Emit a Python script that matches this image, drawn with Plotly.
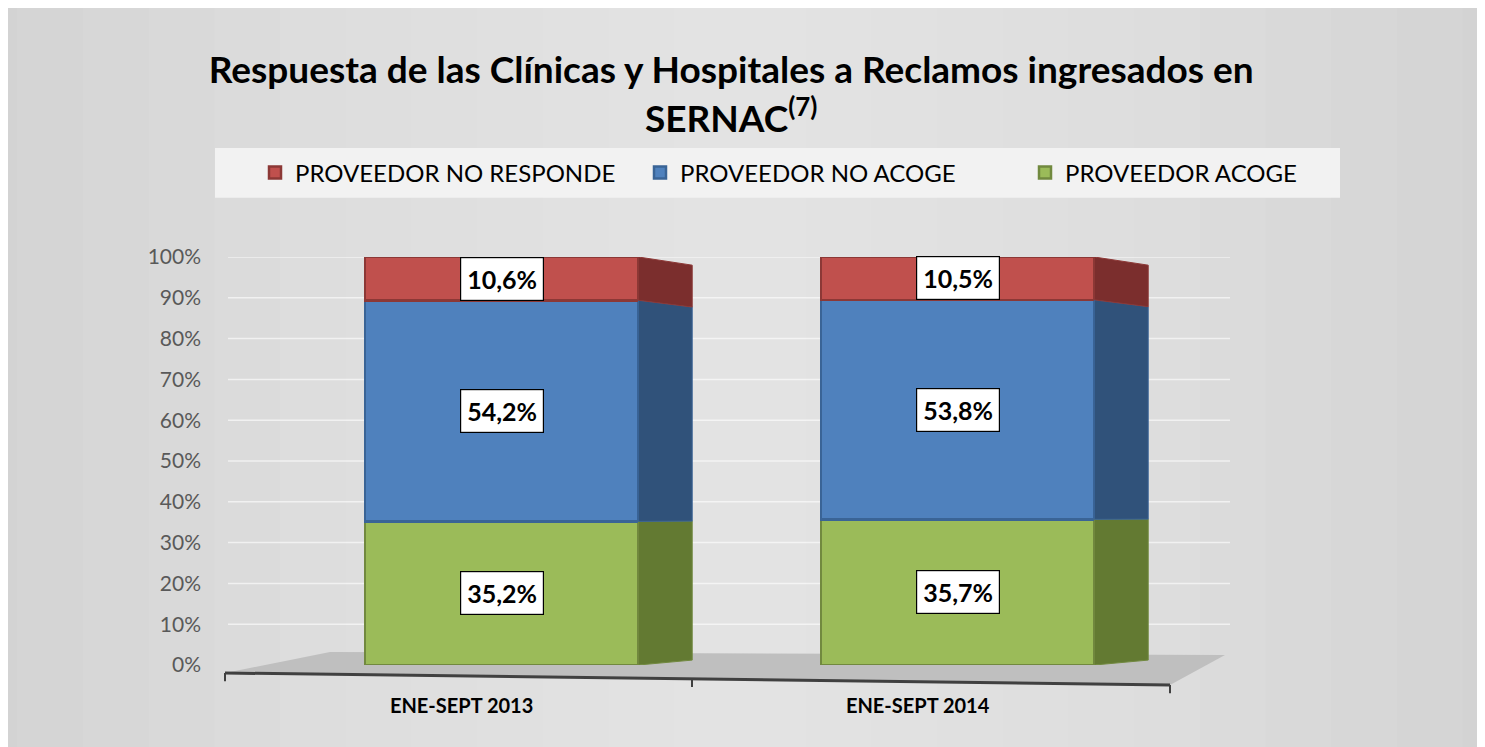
import plotly.graph_objects as go

categories = ["ENE-SEPT 2013", "ENE-SEPT 2014"]
series_names = ["PROVEEDOR ACOGE", "PROVEEDOR NO ACOGE", "PROVEEDOR NO RESPONDE"]
acoge = [35.2, 35.7]
no_acoge = [54.2, 53.8]
no_responde = [10.6, 10.5]
y_ticks = [0, 10, 20, 30, 40, 50, 60, 70, 80, 90, 100]

FONT = "Lato"
front_colors = ["#9bbb59", "#4f81bd", "#c0504d"]
line_colors = ["#71893f", "#3a6496", "#8c3836"]
side_colors = ["#637a32", "#30527a", "#7b2e2d"]

xpos = list(range(len(categories)))
bar_w = 0.6
depth = 0.118

def back_y(v):
    return 1.2 + 0.968 * v

fig = go.Figure()

values = [acoge, no_acoge, no_responde]
bases = []
cum = [0.0] * len(categories)
for vals in values:
    bases.append(cum[:])
    cum = [c + v for c, v in zip(cum, vals)]

# side faces (pseudo 3D)
for s, vals in enumerate(values):
    xs, ys = [], []
    for i, x in enumerate(xpos):
        b = bases[s][i]
        t = b + vals[i]
        xr = x + bar_w / 2
        xs += [xr, xr, xr + depth, xr + depth, xr, None]
        ys += [b, t, back_y(t), back_y(b), b, None]
    fig.add_trace(go.Scatter(
        x=xs, y=ys, mode="lines", fill="toself",
        fillcolor=side_colors[s], line=dict(color=line_colors[s], width=1),
        showlegend=False, hoverinfo="skip"))

# front faces
for s, vals in enumerate(values):
    fig.add_trace(go.Bar(
        x=xpos, y=vals, name=series_names[s], width=bar_w,
        marker=dict(color=front_colors[s], line=dict(color=line_colors[s], width=2.5)),
    ))

# data labels
for s, vals in enumerate(values):
    for i, x in enumerate(xpos):
        mid = bases[s][i] + vals[i] / 2
        fig.add_annotation(
            x=x, y=mid, xref="x", yref="y",
            text="<b>" + f"{vals[i]:.1f}".replace(".", ",") + "%</b>",
            showarrow=False, font=dict(family=FONT, size=25, color="black"),
            bgcolor="white", bordercolor="black", borderwidth=1.2, borderpad=6,
        )

PW = 1212.0  # plot area width in px
def px(xs):
    return (xs - 228) / PW

shapes = []
# background gradient simulation (lighter towards the centre)
n = 14
for k in range(n):
    half = 920 / PW * (1 - k / n)
    shapes.append(dict(type="rect", xref="paper", yref="paper",
                       x0=px(740) - half, x1=px(740) + half,
                       y0=-0.3, y1=1.9, fillcolor="white", opacity=0.055,
                       line=dict(width=0), layer="below"))
# legend box
shapes.append(dict(type="rect", xref="paper", yref="paper", x0=px(215), x1=px(1340), y0=1.145, y1=1.267,
                   fillcolor="#f2f2f2", line=dict(width=0), layer="below"))
# gridlines (ending at the back wall)
for t in y_ticks[1:]:
    shapes.append(dict(type="line", xref="paper", yref="y", x0=0, x1=px(1230), y0=t, y1=t,
                       line=dict(color="rgba(255,255,255,0.6)", width=1.5), layer="below"))
# floor
shapes.append(dict(type="path", xref="paper", yref="paper",
                   path=f"M {px(225)},-0.0196 L {px(1170)},-0.049 L {px(1225)},0.0245 L {px(330)},0.032 Z",
                   fillcolor="#bfbfbf", line=dict(width=0), layer="below"))
# axis line
shapes.append(dict(type="line", xref="paper", yref="paper", x0=px(225), y0=-0.0196, x1=px(1170), y1=-0.049,
                   line=dict(color="#404040", width=3)))
for xx, yy in [(225, -0.0196), (692, -0.034), (1170, -0.049)]:
    shapes.append(dict(type="line", xref="paper", yref="paper", x0=px(xx), y0=yy, x1=px(xx), y1=yy - 0.02,
                       line=dict(color="#404040", width=2)))

fig.update_layout(
    width=1485, height=747,
    margin=dict(l=220, r=53, t=249, b=90),
    paper_bgcolor="#cdcdcd", plot_bgcolor="rgba(0,0,0,0)",
    barmode="stack", bargap=0.4,
    shapes=shapes,
    title=dict(
        text="Respuesta de las Clínicas y Hospitales a Reclamos ingresados en<br>SERNAC<sup>(7)</sup>",
        x=0.487, xanchor="center", y=0.899, yanchor="top",
        font=dict(family=FONT, size=37, color="black", weight="bold"),
    ),
    legend=dict(
        orientation="h", traceorder="reversed",
        x=px(255), xanchor="left", y=1.206, yanchor="middle",
        bgcolor="rgba(0,0,0,0)", font=dict(family=FONT, size=24, color="black"),
        entrywidth=340, entrywidthmode="pixels",
    ),
    xaxis=dict(
        range=[-0.6, -0.6 + PW / 456.0], tickmode="array", tickvals=xpos,
        ticktext=["<b>" + c + "</b>" for c in categories],
        tickfont=dict(family=FONT, size=20, color="black"),
        showgrid=False, zeroline=False, showline=False, ticks="",
        ticklabelshift=-40, ticklabelstandoff=27,
    ),
    yaxis=dict(
        range=[0, 100], tickmode="array", tickvals=y_ticks,
        ticktext=[f"{t}%" for t in y_ticks],
        tickfont=dict(family=FONT, size=21, color="#595959"),
        showgrid=False, zeroline=False, showline=False, ticks="", ticklabelstandoff=26,
    ),
)

fig.write_html("out.html")
